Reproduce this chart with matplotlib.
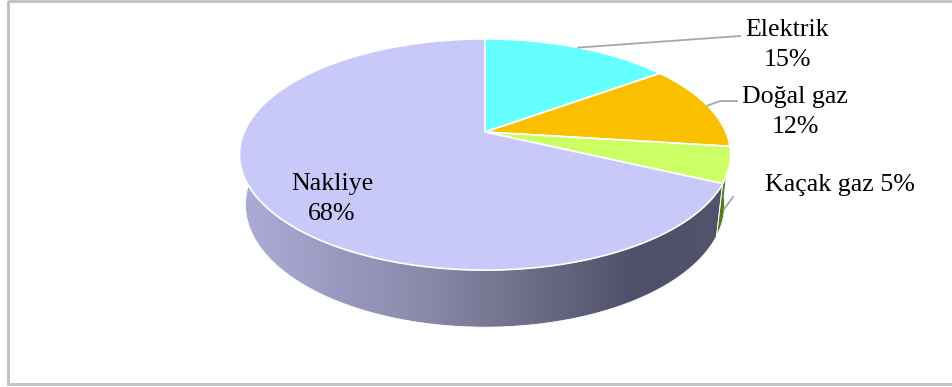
import numpy as np
import matplotlib
matplotlib.use("Agg")
import matplotlib.pyplot as plt
from matplotlib.patches import Polygon, Rectangle
from matplotlib.colors import LinearSegmentedColormap

# share of each energy item, percent
categories = ["Elektrik", "Doğal gaz", "Kaçak gaz", "Nakliye"]
values = [15, 12, 5, 68]

top_colors = ["#66FFFF", "#FAC000", "#CCFF66", "#C9C9F9"]
side_colors = ["#2FA8A8", "#9A7400", "#58771F", None]   # None -> gradient
side_cmap = LinearSegmentedColormap.from_list(
    "side", [(0.0, "#ACACD8"), (0.35, "#8C8CAE"), (0.55, "#73738F"),
             (0.8, "#50506A"), (1.0, "#53536C")])

# label placement (pixels) and leader line paths
label_xy = [(787, 45), (795, 112), (840, 185), (332, 199)]
label_sep = ["\n", "\n", " ", "\n"]
leader_pts = [[(740, 36)], [(720, 101), (737, 101)], [(733, 197)], None]
leader_drop = [0.0, 0.0, 0.85, 0.0]   # how far down the wall the line starts

# simple perspective camera for the 3d disk
CX, CY = 485, 132
F, D = 1097.0, 4.555
PHI = np.radians(27.5)
THICK = 0.237
S, C = np.sin(PHI), np.cos(PHI)


def project(theta, h=0.0):
    # theta measured clockwise from 12 o'clock, h is height (0 = top face)
    u, v = np.sin(theta), np.cos(theta)
    yc = v * S + h * C
    zc = D + v * C - h * S
    return CX + F * u / zc, CY - F * yc / zc


fig = plt.figure(figsize=(9.52, 3.87), dpi=100)
ax = fig.add_axes([0, 0, 1, 1])
ax.set_xlim(0, 952)
ax.set_ylim(387, 0)
ax.axis("off")

# chart frame
ax.add_patch(Rectangle((8, 1), 1000, 383, fill=False, edgecolor="#BFBFBF",
                       linewidth=2, zorder=0))

fracs = np.array(values, dtype=float) / sum(values)
bounds = np.concatenate([[0], np.cumsum(fracs)]) * 2 * np.pi

# side walls, only the front half can be seen
for i in range(len(values)):
    a0, a1 = max(bounds[i], np.pi / 2), min(bounds[i + 1], 3 * np.pi / 2)
    if a1 <= a0:
        continue
    th = np.linspace(a0, a1, 200)
    tx, ty = project(th, 0.0)
    bx, by = project(th[::-1], -THICK)
    pts = np.column_stack([np.concatenate([tx, bx]), np.concatenate([ty, by])])
    if side_colors[i] is None:
        wall = Polygon(pts, closed=True, facecolor="none", edgecolor="white",
                       linewidth=0.6, zorder=2)
        ax.add_patch(wall)
        im = ax.imshow(np.linspace(0, 1, 256)[None, :], cmap=side_cmap,
                       extent=(238, 732, 340, 130), aspect="auto", zorder=1)
        im.set_clip_path(wall)
    else:
        ax.add_patch(Polygon(pts, closed=True, facecolor=side_colors[i],
                             edgecolor="white", linewidth=0.6, zorder=2))

# top face slices
for i in range(len(values)):
    th = np.linspace(bounds[i], bounds[i + 1], 300)
    rx, ry = project(th)
    pts = np.column_stack([np.concatenate([[CX], rx]), np.concatenate([[CY], ry])])
    ax.add_patch(Polygon(pts, closed=True, facecolor=top_colors[i],
                         edgecolor="white", linewidth=1.2, zorder=3))

# labels and leader lines
for i, name in enumerate(categories):
    ax.text(*label_xy[i], f"{name}{label_sep[i]}{values[i]}%", ha="center",
            va="center", multialignment="center", family="Liberation Serif",
            fontsize=18.7, linespacing=1.42, zorder=5)
    if leader_pts[i] is None:
        continue
    mid = (bounds[i] + bounds[i + 1]) / 2
    sx, sy = project(mid, -THICK * leader_drop[i])
    xs = [sx] + [p[0] for p in leader_pts[i]]
    ys = [sy] + [p[1] for p in leader_pts[i]]
    ax.plot(xs, ys, color="#A6A6A6", linewidth=1.3, zorder=4)

fig.savefig("out.png", dpi=100)
